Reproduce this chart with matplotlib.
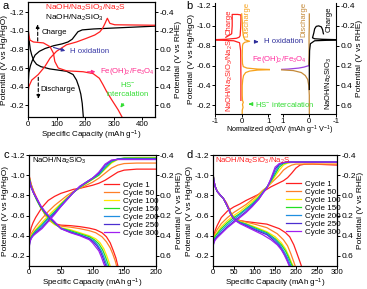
import matplotlib
matplotlib.use('Agg')
import matplotlib.pyplot as plt
from matplotlib.ticker import FormatStrFormatter

plt.rcParams['font.family'] = ['Liberation Sans', 'DejaVu Sans']
plt.rcParams['font.size'] = 6
plt.rcParams['mathtext.default'] = 'regular'
plt.rcParams['axes.unicode_minus'] = False
plt.rcParams['axes.linewidth'] = 0.8

RHE_SHIFT = 0.8  # V vs RHE = V vs Hg/HgO + 0.8

# ---------------- panel a: first cycle, two electrolytes ----------------
a_blk_chg_q = [0, 1, 3, 8, 15, 25, 40, 60, 90, 120, 140, 155, 165, 175, 190, 230, 300, 445]
a_blk_chg_v = [-0.30, -0.45, -0.55, -0.62, -0.68, -0.74, -0.78, -0.81, -0.84, -0.86, -0.88,
               -0.91, -0.95, -0.99, -1.01, -1.02, -1.03, -1.05]
a_blk_dis_q = [0, 3, 8, 13, 20, 30, 45, 77, 135, 158, 170, 178, 185, 190, 194]
a_blk_dis_v = [-1.05, -0.92, -0.80, -0.74, -0.68, -0.64, -0.615, -0.59, -0.565, -0.53, -0.47,
               -0.40, -0.32, -0.22, -0.07]
a_red_chg_q = [0, 0, 3, 13, 36, 59, 77, 100, 135, 170, 205, 234, 252, 262, 270, 278, 287, 304, 445]
a_red_chg_v = [-0.07, -0.33, -0.40, -0.47, -0.53, -0.615, -0.705, -0.78, -0.85, -0.88, -0.92,
               -0.955, -0.99, -1.03, -1.08, -1.135, -1.08, -1.065, -1.06]
a_red_dis_q = [0, 3, 7, 19, 54, 77, 89, 94, 106, 135, 193, 228, 250, 263, 275, 293, 316, 330]
a_red_dis_v = [-1.04, -0.95, -0.90, -0.88, -0.87, -0.83, -0.76, -0.67, -0.60, -0.57, -0.56,
               -0.54, -0.49, -0.42, -0.35, -0.26, -0.15, -0.07]

# ---------------- panel b: dQ/dV ----------------
b_red_v = [-0.25, -0.5, -0.75, -0.83, -0.85, -0.86, -0.865, -0.875, -0.885, -0.9, -0.98, -1.06,
           -1.11, -1.115, -1.115, -1.10, -1.0, -0.92, -0.885]
b_red_x = [-0.03, -0.03, -0.04, -0.08, -0.3, -1.2, -0.6, -0.2, -0.1, -0.06, -0.04, -0.03,
           -0.03, -0.15, -0.36, -0.36, -0.36, -0.38, -0.6]
b_org_v = [-1.12, -1.05, -0.95, -0.90, -0.86, -0.845, -0.835, -0.82, -0.80, -0.70, -0.62, -0.59,
           -0.575, -0.565, -0.56, -0.555, -0.545, -0.53, -0.50, -0.46, -0.40, -0.30, -0.25,
           -0.23, -0.21, -0.18, -0.15, -0.10]
b_org_x = [0.0, 0.02, 0.04, 0.06, 0.12, 0.3, 0.12, 0.05, 0.03, 0.02, 0.03, 0.06, 0.2, 0.6,
           1.2, 0.6, 0.3, 0.15, 0.07, 0.04, 0.02, 0.02, 0.03, 0.06, 0.03, 0.05, 0.02, 0.02]
b_tan_v = [-1.12, -1.0, -0.9, -0.8, -0.7, -0.6]
b_tan_x = [0.0, 0.0, 0.01, 0.01, 0.01, 0.02]
b_pur_v = [-0.6, -0.595, -0.585, -0.575, -0.565, -0.56]
b_pur_x = [0.02, 0.08, 0.2, 0.4, 0.8, 1.2]
b_tan2_v = [-0.56, -0.55, -0.53, -0.50, -0.46, -0.40, -0.30, -0.20, -0.10]
b_tan2_x = [1.2, 0.6, 0.3, 0.15, 0.06, 0.02, 0.0, 0.0, 0.0]
b_blk_v = [-0.36, -0.6, -0.75, -0.82, -0.85, -0.86, -0.865, -0.87, -0.88, -0.9, -0.93, -0.97,
           -0.995, -1.0, -0.99, -0.96, -0.93, -0.92]
b_blk_x = [0.0, 0.0, -0.01, -0.04, -0.2, -1.2, -0.5, -0.2, -0.12, -0.14, -0.17, -0.2,
           -0.26, -0.35, -0.45, -0.5, -0.52, -0.53]

# ---------------- panels c & d: cycling ----------------
cycle_labels = ['Cycle 1', 'Cycle 50', 'Cycle 100', 'Cycle 150', 'Cycle 200', 'Cycle 250', 'Cycle 300']
cycle_colors = ['#ff1f1f', '#ff7f27', '#ffe600', '#22e022', '#1f8fe0', '#4b2fd0', '#a020f0']

c_chg_q = [0, 1, 3, 6, 10, 20, 30, 40, 50, 60, 70, 80, 90, 100, 110, 120, 130, 140, 150, 170, 200]
c_chg_v = [
    [-0.36, -0.42, -0.48, -0.53, -0.58, -0.68, -0.75, -0.79, -0.82, -0.84, -0.86, -0.87, -0.885, -0.90, -0.92, -0.95, -0.99, -1.03, -1.05, -1.06, -1.06],
    [-0.34, -0.38, -0.42, -0.45, -0.49, -0.57, -0.64, -0.70, -0.75, -0.80, -0.84, -0.87, -0.90, -0.93, -0.97, -1.02, -1.07, -1.10, -1.115, -1.12, -1.12],
    [-0.33, -0.37, -0.40, -0.43, -0.46, -0.53, -0.60, -0.66, -0.72, -0.78, -0.83, -0.88, -0.92, -0.96, -1.00, -1.06, -1.12, -1.155, -1.17, -1.175, -1.175],
    [-0.32, -0.36, -0.39, -0.42, -0.45, -0.51, -0.58, -0.64, -0.71, -0.77, -0.83, -0.88, -0.92, -0.96, -1.00, -1.07, -1.13, -1.16, -1.17, -1.17, -1.17],
    [-0.31, -0.35, -0.38, -0.41, -0.44, -0.50, -0.57, -0.63, -0.70, -0.77, -0.83, -0.88, -0.93, -0.97, -1.01, -1.08, -1.14, -1.16, -1.165, -1.165, -1.165],
    [-0.30, -0.34, -0.38, -0.40, -0.43, -0.48, -0.55, -0.62, -0.69, -0.76, -0.83, -0.89, -0.93, -0.97, -1.02, -1.10, -1.145, -1.16, -1.16, -1.16, -1.16],
    [-0.29, -0.34, -0.37, -0.40, -0.42, -0.47, -0.54, -0.61, -0.69, -0.76, -0.83, -0.89, -0.93, -0.97, -1.03, -1.11, -1.15, -1.155, -1.155, -1.155, -1.155],
]
c_dis_q = [
    [0, 3, 7, 12, 18, 25, 32, 40, 50, 65, 80, 95, 105, 115, 122, 128, 133, 137, 141],
    [0, 3, 7, 12, 18, 25, 32, 40, 50, 65, 80, 95, 105, 115, 122, 128, 132, 136, 139],
    [0, 3, 7, 12, 18, 25, 32, 40, 50, 65, 80, 95, 105, 112, 118, 122, 126, 129],
    [0, 3, 7, 12, 18, 25, 32, 40, 50, 65, 80, 95, 103, 110, 116, 120, 124, 127],
    [0, 3, 7, 12, 18, 25, 32, 40, 50, 65, 80, 95, 102, 108, 114, 118, 122, 125],
    [0, 3, 7, 12, 18, 25, 32, 40, 50, 65, 80, 95, 101, 107, 112, 116, 120, 123],
    [0, 3, 7, 12, 18, 25, 32, 40, 50, 65, 80, 95, 100, 105, 110, 114, 118, 121],
]
c_dis_v = [
    [-0.99, -0.91, -0.84, -0.77, -0.69, -0.61, -0.55, -0.52, -0.505, -0.50, -0.49, -0.475, -0.46, -0.43, -0.39, -0.33, -0.25, -0.18, -0.08],
    [-0.98, -0.90, -0.83, -0.76, -0.68, -0.61, -0.55, -0.515, -0.495, -0.485, -0.47, -0.45, -0.43, -0.39, -0.34, -0.28, -0.22, -0.15, -0.08],
    [-0.97, -0.89, -0.82, -0.75, -0.68, -0.62, -0.56, -0.51, -0.48, -0.46, -0.43, -0.40, -0.37, -0.33, -0.27, -0.21, -0.14, -0.08],
    [-0.97, -0.89, -0.82, -0.75, -0.68, -0.62, -0.57, -0.52, -0.475, -0.45, -0.42, -0.39, -0.36, -0.32, -0.26, -0.20, -0.13, -0.08],
    [-0.96, -0.88, -0.82, -0.76, -0.69, -0.63, -0.58, -0.53, -0.475, -0.44, -0.41, -0.375, -0.35, -0.31, -0.25, -0.19, -0.12, -0.08],
    [-0.96, -0.88, -0.82, -0.76, -0.69, -0.63, -0.58, -0.53, -0.47, -0.435, -0.405, -0.37, -0.34, -0.30, -0.25, -0.19, -0.12, -0.08],
    [-0.95, -0.88, -0.82, -0.77, -0.70, -0.64, -0.59, -0.54, -0.47, -0.43, -0.40, -0.36, -0.33, -0.29, -0.25, -0.19, -0.12, -0.08],
]

d_chg_q = [0, 1, 3, 6, 10, 20, 35, 50, 65, 80, 95, 110, 120, 130, 140, 150, 160, 170, 180, 190, 200, 210, 220, 240, 300]
d_chg_v = [
    [-0.33, -0.38, -0.42, -0.46, -0.50, -0.58, -0.645, -0.685, -0.715, -0.75, -0.78, -0.81, -0.835, -0.86, -0.885, -0.905, -0.925, -0.945, -0.975, -1.02, -1.07, -1.10, -1.108, -1.11, -1.10],
    [-0.31, -0.36, -0.40, -0.43, -0.46, -0.52, -0.58, -0.63, -0.67, -0.71, -0.76, -0.81, -0.85, -0.88, -0.92, -0.96, -1.00, -1.05, -1.08, -1.10, -1.11, -1.11, -1.11, -1.11, -1.11],
    [-0.30, -0.34, -0.38, -0.41, -0.43, -0.49, -0.55, -0.60, -0.64, -0.69, -0.74, -0.79, -0.84, -0.88, -0.93, -0.99, -1.05, -1.10, -1.12, -1.125, -1.125, -1.125, -1.125, -1.125, -1.125],
    [-0.29, -0.33, -0.37, -0.40, -0.42, -0.47, -0.53, -0.58, -0.62, -0.67, -0.72, -0.78, -0.83, -0.88, -0.94, -1.01, -1.08, -1.115, -1.125, -1.13, -1.13, -1.13, -1.13, -1.13, -1.13],
    [-0.28, -0.32, -0.36, -0.38, -0.40, -0.45, -0.51, -0.56, -0.61, -0.66, -0.71, -0.77, -0.83, -0.88, -0.95, -1.03, -1.10, -1.12, -1.13, -1.13, -1.13, -1.13, -1.13, -1.13, -1.13],
    [-0.28, -0.32, -0.35, -0.37, -0.39, -0.43, -0.49, -0.54, -0.59, -0.64, -0.70, -0.76, -0.82, -0.875, -0.96, -1.06, -1.11, -1.125, -1.13, -1.13, -1.13, -1.13, -1.13, -1.13, -1.13],
    [-0.27, -0.31, -0.34, -0.36, -0.38, -0.42, -0.48, -0.53, -0.58, -0.63, -0.69, -0.76, -0.82, -0.87, -0.97, -1.08, -1.115, -1.125, -1.13, -1.13, -1.13, -1.13, -1.13, -1.13, -1.13],
]
d_dis_q = [
    [0, 2, 5, 10, 18, 25, 32, 40, 46, 55, 65, 80, 100, 130, 160, 175, 185, 195, 203, 210, 215],
    [0, 2, 5, 10, 18, 25, 30, 36, 42, 48, 55, 65, 80, 100, 130, 155, 170, 180, 188, 195, 200],
    [0, 2, 5, 10, 18, 25, 30, 36, 42, 48, 55, 65, 80, 100, 130, 150, 165, 175, 183, 190, 196],
    [0, 2, 5, 10, 18, 25, 30, 36, 42, 48, 55, 65, 80, 100, 130, 150, 165, 175, 182, 188, 194],
    [0, 2, 5, 10, 18, 25, 30, 36, 42, 48, 55, 65, 80, 100, 130, 150, 163, 172, 180, 186, 191],
    [0, 2, 5, 10, 18, 25, 30, 36, 42, 48, 55, 65, 80, 100, 130, 145, 160, 169, 177, 183, 188],
    [0, 2, 5, 10, 18, 25, 30, 36, 42, 48, 54, 65, 80, 100, 120, 140, 155, 165, 172, 180, 186],
]
d_dis_v = [
    [-1.02, -0.95, -0.89, -0.84, -0.80, -0.77, -0.73, -0.66, -0.60, -0.565, -0.55, -0.54, -0.53, -0.515, -0.47, -0.43, -0.39, -0.31, -0.22, -0.14, -0.08],
    [-1.02, -0.95, -0.89, -0.84, -0.80, -0.77, -0.73, -0.68, -0.63, -0.59, -0.565, -0.55, -0.535, -0.515, -0.48, -0.42, -0.36, -0.30, -0.22, -0.14, -0.08],
    [-1.02, -0.95, -0.89, -0.84, -0.80, -0.77, -0.73, -0.68, -0.63, -0.59, -0.56, -0.54, -0.52, -0.49, -0.44, -0.39, -0.33, -0.27, -0.20, -0.13, -0.08],
    [-1.02, -0.95, -0.89, -0.84, -0.80, -0.77, -0.73, -0.68, -0.63, -0.59, -0.56, -0.535, -0.515, -0.48, -0.43, -0.37, -0.31, -0.25, -0.19, -0.13, -0.08],
    [-1.02, -0.95, -0.89, -0.84, -0.80, -0.77, -0.73, -0.68, -0.62, -0.58, -0.555, -0.53, -0.51, -0.47, -0.42, -0.36, -0.30, -0.24, -0.18, -0.12, -0.08],
    [-1.02, -0.95, -0.89, -0.84, -0.80, -0.77, -0.73, -0.68, -0.62, -0.58, -0.55, -0.525, -0.50, -0.46, -0.41, -0.36, -0.30, -0.24, -0.18, -0.12, -0.08],
    [-1.02, -0.95, -0.89, -0.84, -0.80, -0.77, -0.73, -0.68, -0.62, -0.58, -0.55, -0.52, -0.49, -0.45, -0.41, -0.36, -0.31, -0.26, -0.21, -0.14, -0.08],
]

RED = '#ff1f1f'
LW = 0.9
ANN = 5.6  # annotation font size


def style_axis(ax, ylim, yticks):
    ax.set_ylim(*ylim)
    ax.set_yticks(yticks)
    ax.yaxis.set_major_formatter(FormatStrFormatter('%.1f'))
    ax.tick_params(length=2, width=0.7, pad=1, labelsize=6)
    ax.tick_params(axis='x', pad=0.5, labelsize=5.6)


def add_rhe(ax, ylim):
    ax2 = ax.twinx()
    ax2.set_ylim(ylim[0] + RHE_SHIFT, ylim[1] + RHE_SHIFT)
    ax2.set_yticks([-0.4, -0.2, 0.0, 0.2, 0.4, 0.6])
    ax2.yaxis.set_major_formatter(FormatStrFormatter('%.1f'))
    ax2.tick_params(length=2, width=0.7, pad=1, labelsize=6)
    ax2.set_ylabel('Potential (V vs RHE)', labelpad=1, fontsize=6)
    return ax2


def place_xlabel(ax, text, fig_y, ax_bottom, ax_height):
    ax.set_xlabel(text, fontsize=5.8)
    ax.xaxis.set_label_coords(0.5, -(fig_y - ax_bottom) / ax_height)
    ax.xaxis.label.set_va('center')


hg_ticks = [-1.2, -1.0, -0.8, -0.6, -0.4, -0.2]
xlab = 'Specific Capacity (mAh g$^{-1}$)'
fig = plt.figure(figsize=(3.67, 2.89), dpi=100)

# ---- a ----
ax = fig.add_axes([0.0763, 0.5941, 0.3460, 0.3990])
ylim_a = (-0.07, -1.31)
ax.plot(a_blk_chg_q, a_blk_chg_v, color='k', lw=LW)
ax.plot(a_blk_dis_q, a_blk_dis_v, color='k', lw=LW)
ax.plot(a_red_chg_q, a_red_chg_v, color=RED, lw=LW)
ax.plot(a_red_dis_q, a_red_dis_v, color=RED, lw=LW)
ax.set_xlim(0, 445)
ax.set_xticks([0, 100, 200, 300, 400])
style_axis(ax, ylim_a, hg_ticks)
place_xlabel(ax, xlab, 135.5, 117.3, 115.3)
ax.set_ylabel('Potential (V vs Hg/HgO)', labelpad=1, fontsize=6)
add_rhe(ax, ylim_a)
ax.text(60, -1.25, 'NaOH/Na$_2$SiO$_3$/Na$_2$S', color=RED, fontsize=6, va='center')
ax.text(60, -1.14, 'NaOH/Na$_2$SiO$_3$', color='k', fontsize=6, va='center')
ax.annotate('', xy=(34, -1.10), xytext=(34, -0.86),
            arrowprops=dict(arrowstyle='-|>', ls=(0, (3, 2)), lw=0.8, color='k', mutation_scale=5))
ax.text(46, -0.985, 'Charge', fontsize=ANN, va='center')
ax.annotate('', xy=(36, -0.24), xytext=(36, -0.53),
            arrowprops=dict(arrowstyle='-|>', ls=(0, (3, 2)), lw=0.8, color='k', mutation_scale=5))
ax.text(44, -0.365, 'Discharge', fontsize=ANN, va='center')
ax.annotate('', xy=(140, -0.776), xytext=(80, -0.83),
            arrowprops=dict(arrowstyle='-|>', lw=0.8, color='#3535a5', mutation_scale=5))
ax.text(146, -0.776, 'H oxidation', color='#3535a5', fontsize=ANN, va='center')
ax.annotate('', xy=(246, -0.56), xytext=(199, -0.56),
            arrowprops=dict(arrowstyle='-|>', lw=0.8, color='#ff2d8e', mutation_scale=5))
ax.text(252, -0.56, 'Fe(OH)$_2$/Fe$_3$O$_4$', color='#ff2d8e', fontsize=ANN, va='center')
ax.text(350, -0.418, 'HS$^{-}$', color='#33dd33', fontsize=ANN, ha='center', va='center')
ax.text(350, -0.31, 'intercalation', color='#33dd33', fontsize=ANN, ha='center', va='center')
ax.annotate('', xy=(318, -0.15), xytext=(340, -0.24),
            arrowprops=dict(arrowstyle='-|>', lw=0.8, color='#33dd33', mutation_scale=5))
fig.text(3 / 367, 1 - 6 / 289, 'a', fontsize=8, va='center')

# ---- b ----
ylim_b = (-0.11, -1.23)
bl = fig.add_axes([0.5866, 0.6045, 0.1490, 0.3851])
br = fig.add_axes([0.7665, 0.6045, 0.1490, 0.3851])
bl.patch.set_visible(False)
br.patch.set_visible(False)
bl.plot(b_red_x, b_red_v, color=RED, lw=LW)
bl.plot(b_org_x, b_org_v, color='#f7a21b', lw=LW)
bl.set_xlim(-1, 1.07)
bl.set_xticks([-1, 0, 1])
style_axis(bl, ylim_b, hg_ticks)
bl.spines['top'].set_visible(False)
bl.spines['right'].set_visible(False)
bl.set_ylabel('Potential (V vs Hg/HgO)', labelpad=1, fontsize=6)
bl.text(-0.47, -1.04, 'Charge', rotation=90, color=RED, fontsize=ANN, ha='center', va='center')
bl.text(0.2, -1.06, 'Discharge', rotation=90, color='#f7a21b', fontsize=ANN, ha='center', va='center')
bl.text(-0.45, -0.5, 'NaOH/Na$_2$SiO$_3$/Na$_2$S', rotation=90, color=RED, fontsize=5.4,
        ha='center', va='center')
bl.annotate('', xy=(0.74, -0.84), xytext=(0.45, -0.84),
            arrowprops=dict(arrowstyle='-|>', lw=0.8, color='#2d2d9a', mutation_scale=5))
bl.text(0.86, -0.84, 'H oxidation', color='#2d2d9a', fontsize=ANN, va='center')
bl.text(0.38, -0.663, 'Fe(OH)$_2$/Fe$_3$O$_4$', color='#ff2d9e', fontsize=ANN, va='center')
bl.annotate('', xy=(0.16, -0.213), xytext=(0.44, -0.213),
            arrowprops=dict(arrowstyle='-|>', lw=0.8, color='#33dd33', mutation_scale=5))
bl.text(0.49, -0.213, 'HS$^{-}$ intercalation', color='#33dd33', fontsize=ANN, va='center')

br.plot(b_tan_x, b_tan_v, color='#c48a3a', lw=LW)
br.plot(b_pur_x, b_pur_v, color='#9a40e0', lw=LW)
br.plot(b_tan2_x, b_tan2_v, color='#c48a3a', lw=LW)
br.plot(b_blk_x, b_blk_v, color='k', lw=LW)
br.set_xlim(1.05, -1)
br.set_xticks([1, 0, -1])
style_axis(br, ylim_b, hg_ticks)
br.yaxis.tick_right()
br.yaxis.set_label_position('right')
br.set_yticklabels(['%.1f' % (v + RHE_SHIFT) for v in hg_ticks])
br.spines['top'].set_visible(False)
br.spines['left'].set_visible(False)
br.set_ylabel('Potential (V vs RHE)', labelpad=1, fontsize=6)
br.text(0.2, -1.06, 'Discharge', rotation=90, color='#c48a3a', fontsize=ANN, ha='center', va='center')
br.text(-0.73, -1.07, 'Charge', rotation=90, color='k', fontsize=ANN, ha='center', va='center')
br.text(-0.73, -0.42, 'NaOH/Na$_2$SiO$_3$', rotation=90, color='k', fontsize=5.4,
        ha='center', va='center')
fig.text(280 / 367, 1 - 130.5 / 289, 'Normalized dQ/dV (mAh g$^{-1}$ V$^{-1}$)', ha='center',
         va='center', fontsize=5.2)
fig.text(186 / 367, 1 - 6 / 289, 'b', fontsize=8, va='center')

# ---- c & d ----
ylim_cd = (-0.1, -1.2)
cd_bottom, cd_height = 266.0, 111.0
panels = [
    ('c', [29.3 / 367, 1 - cd_bottom / 289, 126.4 / 367, cd_height / 289], c_chg_q, c_chg_v,
     c_dis_q, c_dis_v, 200, [0, 50, 100, 150, 200], 'NaOH/Na$_2$SiO$_3$', 'k', (104, 181), 4),
    ('d', [213 / 367, 1 - cd_bottom / 289, 124.3 / 367, cd_height / 289], d_chg_q, d_chg_v,
     d_dis_q, d_dis_v, 300, [0, 50, 100, 150, 200, 250, 300], 'NaOH/Na$_2$SiO$_3$/Na$_2$S', RED,
     (286, 180), 186),
]
for (tag, rect, chg_q, chg_v, dis_q, dis_v, xmax, xt, title, tcol, leg_xy, tag_x) in panels:
    ax = fig.add_axes(rect)
    for i in range(len(cycle_labels)):
        ax.plot(chg_q, chg_v[i], color=cycle_colors[i], lw=LW, label=cycle_labels[i])
        ax.plot(dis_q[i], dis_v[i], color=cycle_colors[i], lw=LW)
    ax.set_xlim(0, xmax)
    ax.set_xticks(xt)
    style_axis(ax, ylim_cd, hg_ticks)
    place_xlabel(ax, xlab, 283.8, cd_bottom, cd_height)
    ax.set_ylabel('Potential (V vs Hg/HgO)', labelpad=1, fontsize=6)
    ax.text(0.02 * xmax, -1.14, title, color=tcol, fontsize=5.6, va='center')
    ax.legend(loc='upper left', bbox_to_anchor=(leg_xy[0] / 367, 1 - leg_xy[1] / 289),
              bbox_transform=fig.transFigure, frameon=False, fontsize=5.8, handlelength=1.9,
              handletextpad=0.4, labelspacing=0.05, borderpad=0, borderaxespad=0)
    add_rhe(ax, ylim_cd)
    fig.text(tag_x / 367, 1 - 155 / 289, tag, fontsize=8, va='center')

fig.savefig('out.png', dpi=100)
